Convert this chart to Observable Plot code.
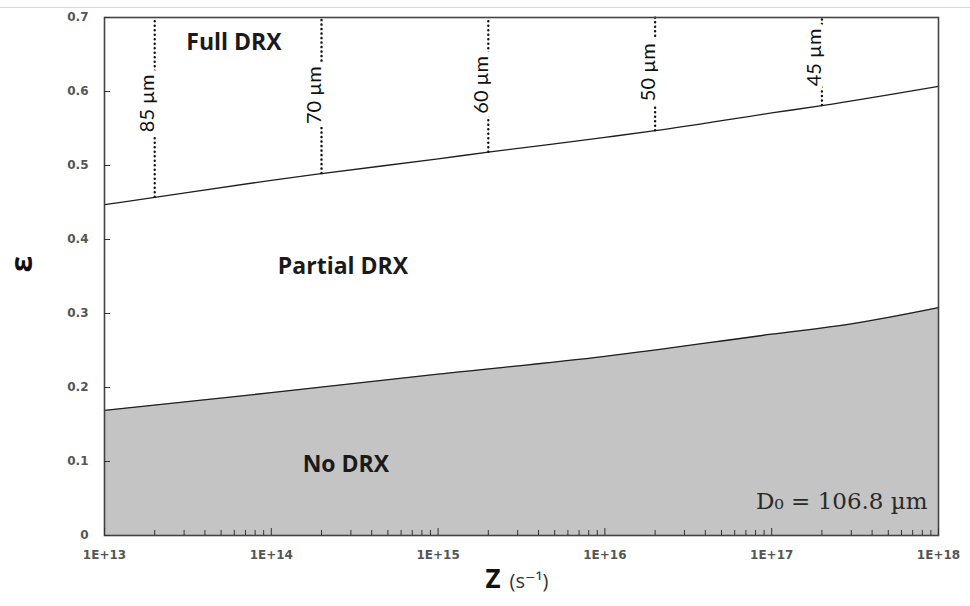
<!DOCTYPE html>
<html>
<head>
<meta charset="utf-8">
<script src="https://cdn.jsdelivr.net/npm/d3@7"></script>
<script src="https://cdn.jsdelivr.net/npm/@observablehq/plot@0.6"></script>
<style>
  html, body { margin: 0; padding: 0; background: #fff; }
  #wrap { position: relative; width: 970px; height: 606px; overflow: hidden; }
  #rule { position: absolute; left: 0; top: 7px; width: 970px; height: 1px; background: #d9d9d9; }
  #chart svg { display: block; }
</style>
</head>
<body>
<div id="wrap"><div id="rule"></div><div id="chart"></div></div>
<script>
// Zener–Hollomon parameter Z (s^-1) vs strain ε: DRX regime map, D0 = 106.8 µm

// Boundary between partial and full DRX
const zFull = [1e13, 2e13, 1e14, 2e14, 1e15, 2e15, 1e16, 2e16, 1e17, 2e17, 1e18];
const epsFull = [0.447, 0.457, 0.480, 0.489, 0.509, 0.518, 0.538, 0.547, 0.571, 0.581, 0.607];

// Boundary between no DRX and partial DRX
const zNone = [1e13, 1e14, 1e15, 1e16, 1e17, 3e17, 1e18];
const epsNone = [0.169, 0.193, 0.218, 0.242, 0.272, 0.286, 0.308];

// Recrystallised grain size contours inside the full DRX region
const grainSize = [85, 70, 60, 50, 45];
const zGrain = [2e13, 2e14, 2e15, 2e16, 2e17];
const epsGrainStart = [0.457, 0.489, 0.518, 0.547, 0.581];
const epsGrainLabel = [0.584, 0.595, 0.609, 0.626, 0.646];

// Region names
const regionName = ["Full DRX", "Partial DRX", "No DRX"];
const zRegion = [5.97e13, 2.69e14, 2.8e14];
const epsRegion = [0.6655, 0.3635, 0.096];

// Axis ticks
const xMajorTicks = [1e13, 1e14, 1e15, 1e16, 1e17, 1e18];
const xMinorTicks = xMajorTicks.slice(0, -1).flatMap(d => [2, 3, 4, 5, 6, 7, 8, 9].map(k => k * d));
const yTicks = [0, 0.1, 0.2, 0.3, 0.4, 0.5, 0.6, 0.7];

const fullLine = zFull.map((z, i) => ({z, eps: epsFull[i]}));
const noneLine = zNone.map((z, i) => ({z, eps: epsNone[i]}));
const grains = grainSize.map((d, i) => ({d, z: zGrain[i], eps: epsGrainStart[i], epsLabel: epsGrainLabel[i]}));
const regions = regionName.map((name, i) => ({name, z: zRegion[i], eps: epsRegion[i]}));

const sans = "'Open Sans', 'DejaVu Sans', sans-serif";
const tickFont = "'DejaVu Sans', Verdana, sans-serif";

const chart = Plot.plot({
  width: 970,
  height: 606,
  marginLeft: 104,
  marginRight: 32,
  marginTop: 17,
  marginBottom: 71,
  style: {background: "transparent"},
  x: {type: "log", domain: [1e13, 1e18], label: null},
  y: {domain: [0, 0.7], label: null},
  marks: [
    Plot.areaY(noneLine, {x: "z", y: "eps", fill: "#c4c4c4", curve: "monotone-x"}),
    Plot.line(noneLine, {x: "z", y: "eps", stroke: "#1e1e1e", strokeWidth: 1.3, curve: "monotone-x"}),
    Plot.line(fullLine, {x: "z", y: "eps", stroke: "#1e1e1e", strokeWidth: 1.3, curve: "monotone-x"}),
    Plot.ruleX(grains, {x: "z", y1: "eps", y2: 0.7, stroke: "#111", strokeWidth: 2.4,
      strokeDasharray: "0.1,4.4", strokeLinecap: "round"}),
    Plot.text(grains, {x: "z", y: "epsLabel", text: d => `${d.d} µm`, rotate: -90, dx: -7,
      fontSize: 20, fontFamily: "Lato, 'Open Sans', sans-serif", fill: "#111",
      stroke: "white", strokeWidth: 11}),
    Plot.text(regions, {x: "z", y: "eps", text: "name", fontSize: 23, fontWeight: "bold",
      fontFamily: sans, fill: "#1a1a1a"}),
    Plot.text(["D₀ = 106.8 µm"], {x: 8.6e17, y: 0.046, textAnchor: "end", fontSize: 23,
      fontFamily: "'DejaVu Serif', 'Liberation Serif', serif", fill: "#2a2a2a"}),
    Plot.frame({stroke: "#444", strokeWidth: 1.6}),
    // inward tick marks (negative length points them into the frame)
    Plot.axisX(xMinorTicks, {tickSize: -5, fill: "none", stroke: "#333"}),
    Plot.axisX(xMajorTicks, {tickSize: -7, fill: "none", stroke: "#333"}),
    Plot.axisY(yTicks, {tickSize: -6, fill: "none", stroke: "#333"}),
    // tick labels
    Plot.axisX(xMajorTicks, {tickSize: 0, tickPadding: 15, fontSize: 12, fontWeight: "bold",
      fontFamily: tickFont, fill: "#555", tickFormat: d => `1E+${Math.round(Math.log10(d))}`}),
    Plot.axisY(yTicks, {tickSize: 0, tickPadding: 16, fontSize: 12, fontWeight: "bold",
      fontFamily: tickFont, fill: "#555", tickFormat: d => d === 0 ? "0" : d.toFixed(1)}),
    // axis titles
    Plot.text(["ε"], {frameAnchor: "left", dx: -82, dy: -4, rotate: -90, fontSize: 30,
      fontWeight: "bold", fontFamily: sans, fill: "#111"}),
    Plot.text(["Z"], {frameAnchor: "bottom", textAnchor: "end", dx: -21, dy: 52, fontSize: 26,
      fontWeight: "bold", fontFamily: sans, fill: "#111"}),
    Plot.text(["(s⁻¹)"], {frameAnchor: "bottom", textAnchor: "start", dx: -12, dy: 52, fontSize: 20,
      fontFamily: sans, fill: "#333"})
  ]
});
document.getElementById("chart").appendChild(chart);
</script>
</body>
</html>
